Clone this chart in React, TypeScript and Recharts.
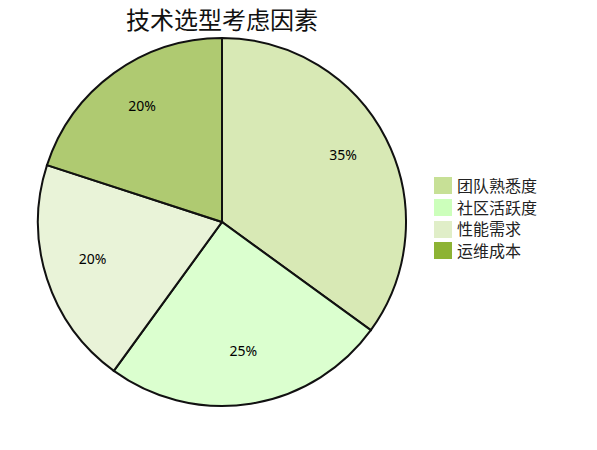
import React from "react";
import { PieChart, Pie, Cell, Legend } from "recharts";

const categories = ["团队熟悉度", "社区活跃度", "性能需求", "运维成本"];
const values = [35, 25, 20, 20];
const colors = ["#c7e096", "#ccffbb", "#e0eec8", "#8db334"];
const title = "技术选型考虑因素";

const data = categories.map((name, i) => ({ name, value: values[i] }));

const RAD = Math.PI / 180;

const renderLabel = (props: any) => {
  const { cx, cy, midAngle, percent } = props;
  const r = 136;
  const x = cx + r * Math.cos(-midAngle * RAD);
  const y = cy + r * Math.sin(-midAngle * RAD) - 6;
  return (
    <text
      x={x}
      y={y}
      textAnchor="middle"
      dominantBaseline="central"
      fontSize={14}
      fontFamily="'Noto Sans', 'Noto Sans CJK SC', sans-serif"
      fill="#000"
    >
      {`${Math.round(percent * 100)}%`}
    </text>
  );
};

const renderLegend = () => (
  <div style={{ fontFamily: "'Noto Sans CJK SC', sans-serif", fontSize: 16 }}>
    {categories.map((c, i) => (
      <div
        key={c}
        style={{ display: "flex", alignItems: "center", height: 21.7, lineHeight: "21.7px" }}
      >
        <div style={{ width: 18, height: 17, background: colors[i], marginRight: 5 }} />
        <span style={{ color: "#222" }}>{c}</span>
      </div>
    ))}
  </div>
);

export default function App() {
  return (
    <div style={{ position: "absolute", left: 0, top: 0, width: 597, height: 450, background: "#fff" }}>
      <PieChart width={597} height={450} margin={{ top: 0, right: 0, bottom: 0, left: 0 }}>
        <text
          x={222}
          y={18}
          textAnchor="middle"
          dominantBaseline="central"
          fontSize={24}
          fontFamily="'Noto Sans CJK SC', sans-serif"
          fill="#111"
        >
          {title}
        </text>
        <Pie
          data={data}
          dataKey="value"
          nameKey="name"
          cx={222}
          cy={222}
          outerRadius={184}
          startAngle={90}
          endAngle={-270}
          stroke="#111"
          strokeWidth={2}
          label={renderLabel}
          labelLine={false}
          isAnimationActive={false}
        >
          {data.map((d, i) => (
            <Cell key={d.name} fill={colors[i]} fillOpacity={0.7} />
          ))}
        </Pie>
        <Legend
          content={renderLegend}
          wrapperStyle={{ position: "absolute", left: 434, top: 175, width: 150 }}
        />
      </PieChart>
    </div>
  );
}
